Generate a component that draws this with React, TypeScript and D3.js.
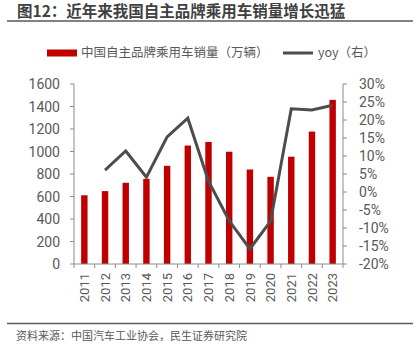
import React from "react";
import * as d3 from "d3";

const years = ["2011","2012","2013","2014","2015","2016","2017","2018","2019","2020","2021","2022","2023"];
const sales = [611, 648, 722, 757, 873, 1053, 1085, 998, 840, 775, 954, 1177, 1459];
const yoy: (number | null)[] = [null, 6.1, 11.4, 4.1, 15.3, 20.5, 3.0, -8.0, -15.8, -8.1, 23.1, 22.8, 24.1];
const leftTicks = [0, 200, 400, 600, 800, 1000, 1200, 1400, 1600];
const rightTicks = [-20, -15, -10, -5, 0, 5, 10, 15, 20, 25, 30];

const W = 416, H = 357;
const plotL = 74, plotR = 343, plotT = 84, plotB = 264;
const FONT = "'Noto Sans CJK SC', 'Noto Sans', sans-serif";
const NUMFONT = "Roboto, 'Open Sans', sans-serif";
const AXIS = "#8c8c8c";
const TXT = "#595959";

export default function App() {
  const x = d3.scaleBand<string>().domain(years).range([plotL, plotR]).paddingInner(0.69).paddingOuter(0.345);
  const band = d3.scaleBand<string>().domain(years).range([plotL, plotR]);
  const yL = d3.scaleLinear().domain([0, 1600]).range([plotB, plotT]);
  const yR = d3.scaleLinear().domain([-20, 30]).range([plotB, plotT]);
  const line = d3.line<number | null>()
    .defined((d) => d !== null)
    .x((_, i) => (band(years[i]) as number) + band.bandwidth() / 2)
    .y((d) => yR(d as number));

  return (
    <svg width={W} height={H} style={{ position: "absolute", left: 0, top: 0, background: "#fff" }} fontFamily={FONT}>
      <text x={17} y={17} fontSize={15.5} fontWeight="bold" fill="#404040">图12：近年来我国自主品牌乘用车销量增长迅猛</text>
      <line x1={7} x2={413} y1={21} y2={21} stroke="#595959" strokeWidth={1.5} />

      {/* legend */}
      <rect x={47} y={49.5} width={30} height={7} fill="#c00000" />
      <text x={81} y={57} fontSize={12.5} fill={TXT}>中国自主品牌乘用车销量（万辆）</text>
      <line x1={283} x2={313} y1={53} y2={53} stroke="#4d4d4d" strokeWidth={3} />
      <text x={318} y={57} fontSize={12.5} fill={TXT}>yoy（右）</text>

      {/* bars */}
      {sales.map((v, i) => (
        <rect key={years[i]} x={x(years[i])} y={yL(v)} width={x.bandwidth()} height={plotB - yL(v)} fill="#c00000" />
      ))}

      {/* line */}
      <path d={line(yoy) || ""} fill="none" stroke="#4d4d4d" strokeWidth={3} strokeLinejoin="miter" />

      {/* left axis */}
      <line x1={plotL} x2={plotL} y1={plotT} y2={plotB} stroke={AXIS} strokeWidth={1} />
      {leftTicks.map((t) => (
        <g key={"l" + t}>
          <line x1={plotL - 4} x2={plotL} y1={yL(t)} y2={yL(t)} stroke={AXIS} />
          <text x={60} y={yL(t)} dy="0.36em" textAnchor="end" fontSize={14} fill={TXT} fontFamily={NUMFONT}>{t}</text>
        </g>
      ))}

      {/* right axis */}
      <line x1={plotR} x2={plotR} y1={plotT} y2={plotB} stroke={AXIS} strokeWidth={1} />
      {rightTicks.map((t) => (
        <g key={"r" + t}>
          <line x1={plotR} x2={plotR + 4} y1={yR(t)} y2={yR(t)} stroke={AXIS} />
          <text x={359} y={yR(t)} dy="0.36em" textAnchor="start" fontSize={14} fill={TXT} fontFamily={NUMFONT}>{t}%</text>
        </g>
      ))}

      {/* x axis */}
      <line x1={plotL} x2={plotR} y1={plotB} y2={plotB} stroke={AXIS} strokeWidth={1.2} />
      {years.map((yv) => (
        <line key={"t" + yv} x1={band(yv) as number} x2={band(yv) as number} y1={plotB} y2={plotB + 4} stroke={AXIS} />
      ))}
      <line x1={plotR} x2={plotR} y1={plotB} y2={plotB + 4} stroke={AXIS} />
      {years.map((yv) => {
        const cx = (band(yv) as number) + band.bandwidth() / 2;
        return (
          <text key={"x" + yv} transform={`translate(${cx},${273}) rotate(-90)`} textAnchor="end" dy="0.36em" fontSize={13} fill={TXT} fontFamily={NUMFONT}>{yv}</text>
        );
      })}

      <line x1={7} x2={413} y1={323.5} y2={323.5} stroke="#595959" strokeWidth={1.5} />
      <text x={16} y={340} fontSize={11} fill={TXT}>资料来源：中国汽车工业协会，民生证券研究院</text>
    </svg>
  );
}
